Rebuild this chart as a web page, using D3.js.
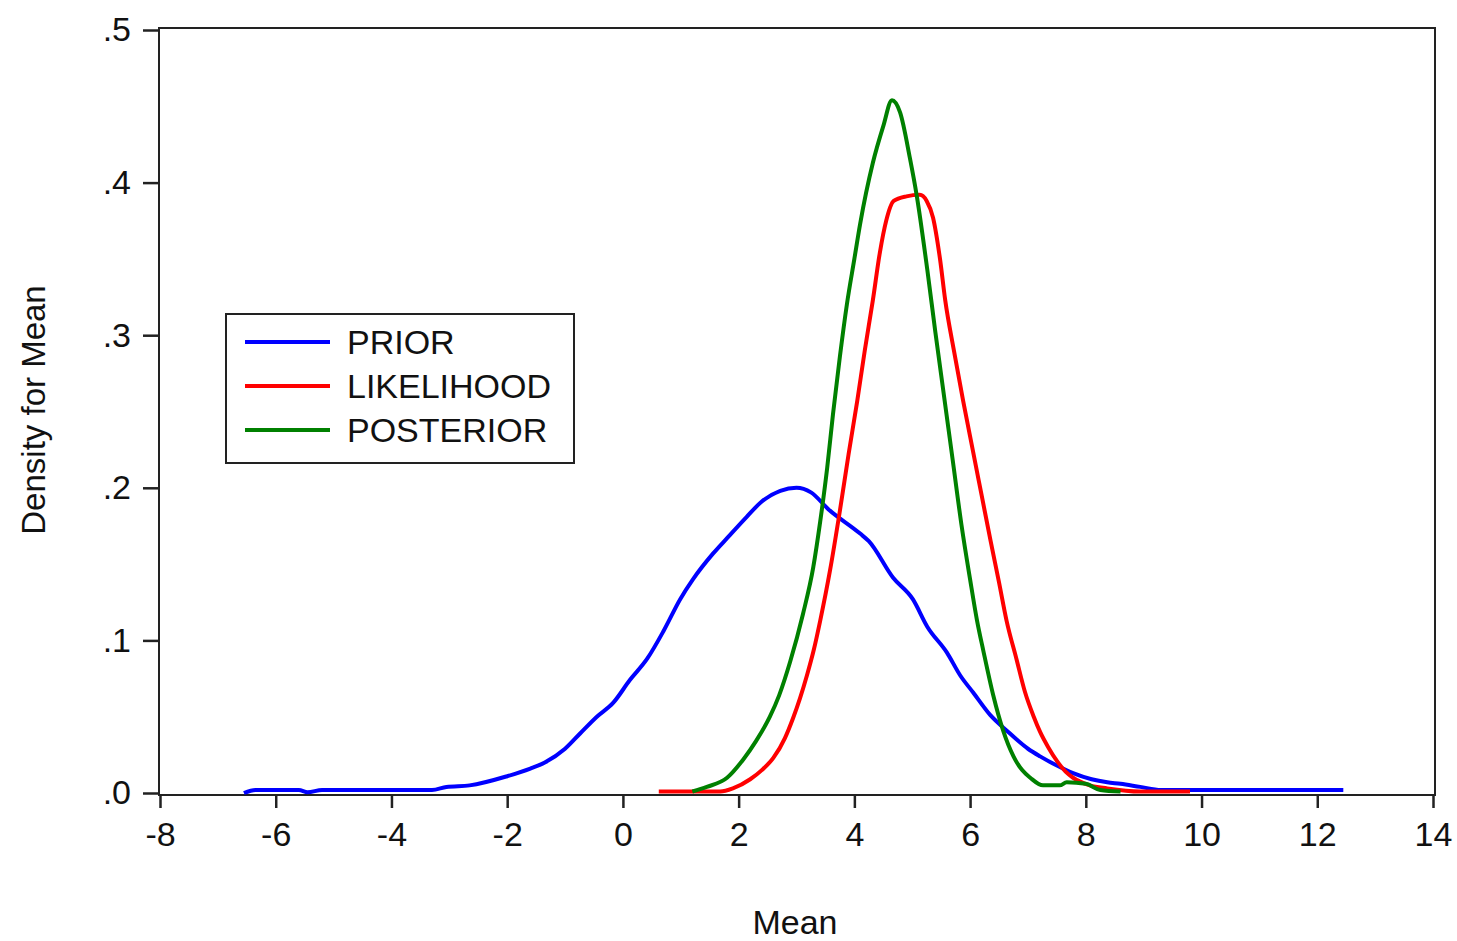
<!DOCTYPE html>
<html>
<head>
<meta charset="utf-8">
<script src="https://cdn.jsdelivr.net/npm/d3@7"></script>
<style>
  body { margin: 0; background: #fff; }
  text { font-family: "Liberation Sans", Arial, sans-serif; fill: #111; }
</style>
</head>
<body>
<div id="chart"></div>
<script>
// values: [mean, density]
const prior = [
  [-6.55, 0], [-6.35, .002], [-5.6, .002], [-5.45, .0005], [-5.2, .002], [-3.3, .002],
  [-3.05, .004], [-2.65, .005], [-2.0, .011], [-1.6, .016], [-1.35, .020], [-1.0, .029],
  [-0.74, .039], [-0.45, .050], [-0.17, .059], [0.12, .074], [0.42, .088], [0.7, .106],
  [0.99, .127], [1.21, .140], [1.56, .157], [1.8, .167], [2.14, .181], [2.4, .191],
  [2.72, .198], [3.0, .200], [3.25, .197], [3.55, .186], [4.1, .170], [4.25, .165],
  [4.67, .141], [5.01, .127], [5.26, .109], [5.6, .092], [5.83, .077], [6.05, .066],
  [6.35, .051], [6.63, .041], [7.0, .029], [7.21, .024], [7.5, .018], [7.78, .013],
  [8.1, .009], [8.37, .007], [8.6, .006], [8.94, .004], [9.3, .002], [10.0, .002], [12.45, .002]
];
const likelihood = [
  [0.62, .001], [1.0, .001], [1.68, .001], [1.9, .003], [2.2, .009], [2.4, .015],
  [2.6, .023], [2.8, .036], [2.94, .049], [3.06, .062], [3.18, .077], [3.3, .094],
  [3.41, .113], [3.58, .146], [3.75, .185], [3.9, .222], [4.05, .257], [4.18, .290],
  [4.32, .323], [4.44, .354], [4.55, .375], [4.68, .388], [4.9, .391], [5.13, .392],
  [5.25, .388], [5.36, .377], [5.48, .350], [5.57, .323], [5.72, .290], [5.88, .257],
  [6.05, .224], [6.2, .195], [6.35, .166], [6.5, .138], [6.63, .113], [6.8, .088],
  [6.95, .066], [7.1, .050], [7.21, .040], [7.35, .030], [7.5, .021], [7.65, .014],
  [7.78, .010], [8.07, .005], [8.37, .003], [8.94, .001], [9.8, .001]
];
const posterior = [
  [1.2, .001], [1.45, .004], [1.8, .010], [2.08, .022], [2.3, .034], [2.54, .050],
  [2.7, .064], [2.89, .086], [3.11, .117], [3.29, .148], [3.41, .178], [3.53, .213],
  [3.63, .248], [3.75, .286], [3.87, .320], [4.0, .350], [4.1, .373], [4.32, .413],
  [4.5, .437], [4.65, .454], [4.79, .446], [4.96, .416], [5.08, .391], [5.26, .343],
  [5.4, .302], [5.55, .260], [5.7, .218], [5.85, .176], [6.0, .140], [6.12, .113],
  [6.23, .093], [6.4, .064], [6.57, .041], [6.75, .024], [6.9, .015], [7.04, .010],
  [7.26, .005], [7.55, .005], [7.67, .007], [8.0, .006], [8.25, .002], [8.6, .001]
];
const xTicks = [-8, -6, -4, -2, 0, 2, 4, 6, 8, 10, 12, 14];
const yTicks = [0, 0.1, 0.2, 0.3, 0.4, 0.5];
const seriesNames = ["PRIOR", "LIKELIHOOD", "POSTERIOR"];
const seriesColors = ["#0000ff", "#ff0000", "#008000"];

const width = 1457, height = 941;
const svg = d3.select("#chart").append("svg")
    .attr("width", width)
    .attr("height", height);

const x = d3.scaleLinear().domain([-8, 14]).range([160, 1433]);
const y = d3.scaleLinear().domain([0, 0.5]).range([793, 30]);

// frame
svg.append("rect")
    .attr("x", 159).attr("y", 28)
    .attr("width", 1276).attr("height", 767)
    .attr("fill", "none")
    .attr("stroke", "#222")
    .attr("stroke-width", 2);

// y axis
const yAxis = svg.append("g")
    .attr("transform", "translate(159,0)")
    .call(d3.axisLeft(y).tickValues(yTicks).tickSize(16).tickPadding(12)
        .tickFormat(d => d3.format(".1f")(d).replace(/^0/, "")));
yAxis.select(".domain").remove();
yAxis.selectAll("line").attr("stroke", "#222").attr("stroke-width", 2.5);
yAxis.selectAll("text").attr("font-size", 34).attr("fill", "#111")
    .attr("font-family", "'Liberation Sans', Arial, sans-serif");

// x axis
const xAxis = svg.append("g")
    .attr("transform", "translate(0,795)")
    .call(d3.axisBottom(x).tickValues(xTicks).tickSize(13).tickPadding(14)
        .tickFormat(d => String(d)));
xAxis.select(".domain").remove();
xAxis.selectAll("line").attr("stroke", "#222").attr("stroke-width", 2.5);
xAxis.selectAll("text").attr("font-size", 34).attr("fill", "#111")
    .attr("font-family", "'Liberation Sans', Arial, sans-serif");

// axis titles
svg.append("text")
    .attr("x", 795).attr("y", 934)
    .attr("text-anchor", "middle")
    .attr("font-size", 34)
    .text("Mean");

svg.append("text")
    .attr("transform", "translate(45,410) rotate(-90)")
    .attr("text-anchor", "middle")
    .attr("font-size", 33)
    .text("Density for Mean");

// curves
const line = d3.line()
    .x(d => x(d[0]))
    .y(d => y(d[1]))
    .curve(d3.curveMonotoneX);

[prior, likelihood, posterior].forEach((data, i) => {
    svg.append("path")
        .datum(data)
        .attr("d", line)
        .attr("fill", "none")
        .attr("stroke", seriesColors[i])
        .attr("stroke-width", 4)
        .attr("stroke-linejoin", "round");
});

// legend
const legend = svg.append("g");
legend.append("rect")
    .attr("x", 226).attr("y", 314)
    .attr("width", 348).attr("height", 149)
    .attr("fill", "#fff")
    .attr("stroke", "#222")
    .attr("stroke-width", 2);

seriesNames.forEach((name, i) => {
    const ly = 342 + i * 44;
    legend.append("line")
        .attr("x1", 245).attr("x2", 330)
        .attr("y1", ly).attr("y2", ly)
        .attr("stroke", seriesColors[i])
        .attr("stroke-width", 4);
    legend.append("text")
        .attr("x", 347).attr("y", ly + 12)
        .attr("font-size", 34)
        .text(name);
});
</script>
</body>
</html>
